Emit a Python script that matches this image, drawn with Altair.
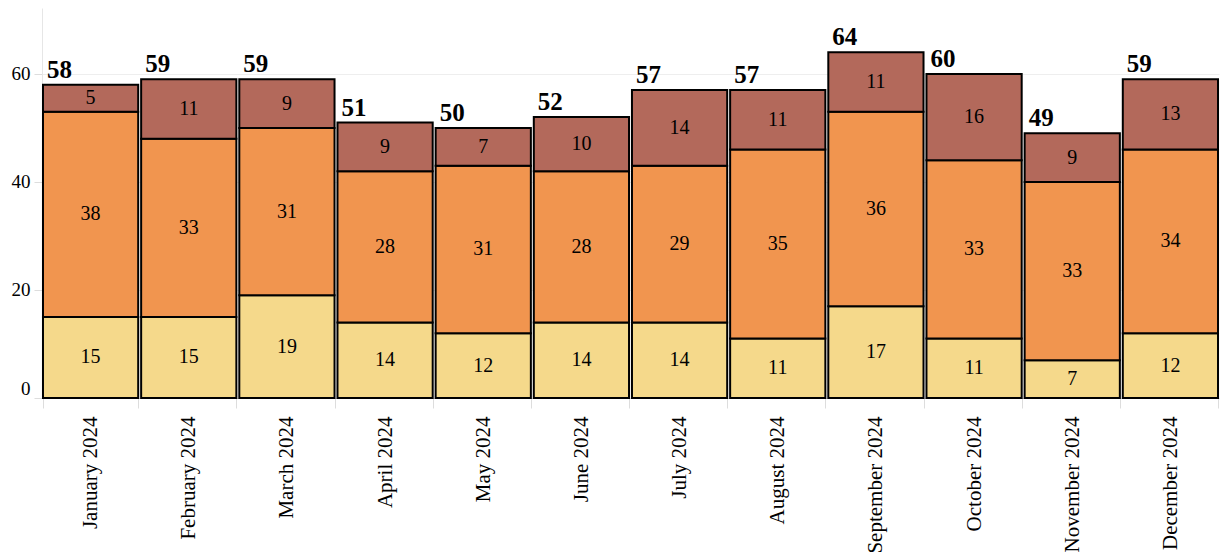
import altair as alt
import pandas as pd

months = ["January 2024", "February 2024", "March 2024", "April 2024", "May 2024",
          "June 2024", "July 2024", "August 2024", "September 2024", "October 2024",
          "November 2024", "December 2024"]
low = [15, 15, 19, 14, 12, 14, 14, 11, 17, 11, 7, 12]
medium = [38, 33, 31, 28, 31, 28, 29, 35, 36, 33, 33, 34]
high = [5, 11, 9, 9, 7, 10, 14, 11, 11, 16, 9, 13]
series = ["Low", "Medium", "High"]
colors = ["#f5d98b", "#f1954f", "#b3695b"]

FONT = "Liberation Serif"

rows = []
for i, m in enumerate(months):
    base = 0
    for k, (s, vals) in enumerate(zip(series, [low, medium, high])):
        v = vals[i]
        rows.append(dict(month=m, series=s, order=k, value=v,
                         y0=base, y1=base + v, mid=base + v / 2))
        base += v
df = pd.DataFrame(rows)
tot = pd.DataFrame({"month": months,
                    "total": [a + b + c for a, b, c in zip(low, medium, high)]})

x_enc = alt.X(
    "month:N", sort=months,
    scale=alt.Scale(paddingInner=0.03, paddingOuter=0.01),
    axis=alt.Axis(title=None, labelAngle=-90, labelFont=FONT, labelFontSize=21,
                  labelColor="#000", tickBand="extent", tickColor="#ddd", tickSize=10,
                  labelPadding=8, domainColor="#ddd", grid=False),
)
y_scale = alt.Scale(domain=[0, 72.2], nice=False)

bars = alt.Chart(df).mark_bar(stroke="black", strokeWidth=2, opacity=1).encode(
    x=x_enc,
    y=alt.Y("y1:Q", scale=y_scale,
            axis=alt.Axis(title=None, values=[0, 20, 40, 60], labelFont=FONT,
                          labelFontSize=19, labelColor="#000", tickColor="#ddd",
                          tickSize=8, labelPadding=4, gridColor="#eee",
                          domainColor="#e6e6e6", labelFlush=True)),
    y2="y0:Q",
    color=alt.Color("series:N", sort=series,
                    scale=alt.Scale(domain=series, range=colors), legend=None),
)

seg_text = alt.Chart(df).mark_text(font=FONT, fontSize=20, color="black",
                                   baseline="middle").encode(
    x=alt.X("month:N", sort=months),
    y=alt.Y("mid:Q", scale=y_scale),
    text="value:Q",
)

tot_text = alt.Chart(tot).mark_text(font=FONT, fontSize=25, fontWeight="bold",
                                    color="black", align="left", baseline="bottom",
                                    dx=4, dy=-2).encode(
    x=alt.X("month:N", sort=months, bandPosition=0),
    y=alt.Y("total:Q", scale=y_scale),
    text="total:Q",
)

chart = (bars + seg_text + tot_text).properties(
    width=1177, height=390,
    padding={"left": 3, "top": 0, "right": 0, "bottom": 0},
).configure_view(stroke=None)

chart.save("out.html", embed_options={"renderer": "svg", "actions": False})
